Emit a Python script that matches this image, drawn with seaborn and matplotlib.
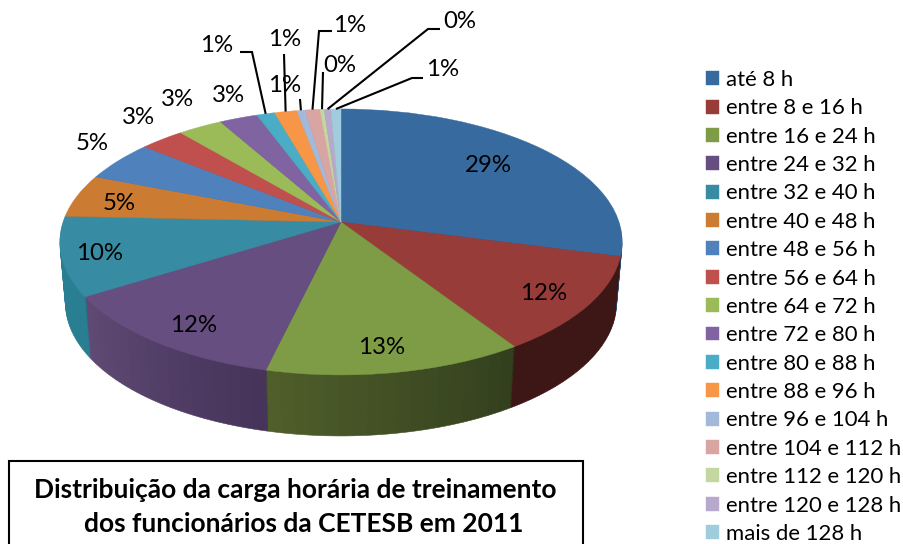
import numpy as np
import matplotlib
matplotlib.use('Agg')
import matplotlib.pyplot as plt
import matplotlib.transforms as mtransforms
from matplotlib.colors import to_rgb
from matplotlib.patches import Rectangle
import seaborn as sns

# Data
categories = ['até 8 h', 'entre 8 e 16 h', 'entre 16 e 24 h', 'entre 24 e 32 h',
              'entre 32 e 40 h', 'entre 40 e 48 h', 'entre 48 e 56 h', 'entre 56 e 64 h',
              'entre 64 e 72 h', 'entre 72 e 80 h', 'entre 80 e 88 h', 'entre 88 e 96 h',
              'entre 96 e 104 h', 'entre 104 e 112 h', 'entre 112 e 120 h',
              'entre 120 e 128 h', 'mais de 128 h']
shares = [29.1, 11.7, 12.9, 12.4, 9.6, 5.25, 4.95, 2.95, 2.97, 2.55,
          1.2, 1.49, 0.55, 0.98, 0.28, 0.45, 0.66]
title_lines = ['Distribuição da carga horária de treinamento',
               'dos funcionários da CETESB em 2011']

top_colors = ['#376A9E', '#983C3A', '#7E9C46', '#664F80', '#378CA3', '#CC7B33',
              '#4F81BD', '#C0504D', '#9BBB59', '#8064A2', '#4BACC6', '#F79646',
              '#A4B9DA', '#D9A5A3', '#C4D7A0', '#B7A9CB', '#9FCDDD']
# side wall colours, at the clockwise start and end of each slice
wall_start = ['#2A4A70', '#3D1715', '#33401E', '#46345A', '#2A7E92', '#8A5020',
              '#34567E', '#803533', '#687D3B', '#55436C', '#327284', '#A5642F',
              '#6D7B91', '#916E6D', '#838F6B', '#7A7187', '#6A8994']
wall_end = ['#2A4A70', '#3D1715', '#4F5E2A', '#5F4A74', '#2A7E92', '#8A5020',
            '#34567E', '#803533', '#687D3B', '#55436C', '#327284', '#A5642F',
            '#6D7B91', '#916E6D', '#838F6B', '#7A7187', '#6A8994']


class DiskPerspective(mtransforms.Transform):
    # tilted disk seen in perspective, unit circle to pixels
    input_dims = 2
    output_dims = 2

    def __init__(self, cx, cy, rx, ry, k):
        super().__init__()
        self.cx, self.cy, self.rx, self.ry, self.k = cx, cy, rx, ry, k

    def transform_non_affine(self, values):
        x, y = values[:, 0], values[:, 1]
        w = 1 + self.k * y
        return np.column_stack([self.cx + self.rx * x / w, self.cy - self.ry * y / w])


sns.set_theme(style='white')
plt.rcParams['font.family'] = ['Lato', 'DejaVu Sans']

fig = plt.figure(figsize=(9.04, 5.44), dpi=100)
ax = fig.add_axes([0, 0, 1, 1])

# side wall: stacked pies, each slice split up to get the horizontal shading
n_sub = 18
sub_shares = np.repeat(np.array(shares) / n_sub, n_sub)
sub_colors = []
for a, b in zip(wall_start, wall_end):
    for f in np.linspace(0, 1, n_sub):
        sub_colors.append(tuple((1 - f) * np.array(to_rgb(a)) + f * np.array(to_rgb(b))))

for t in np.linspace(1, 0.03, 30):
    persp = DiskPerspective(341, 222 + 61 * t, 278 * (1 - 0.02 * t), 130, 0.15)
    wedges, _ = ax.pie(sub_shares, colors=sub_colors, startangle=90, counterclock=False)
    for w in wedges:
        w.set_transform(persp + ax.transData)
        w.set_edgecolor(w.get_facecolor())
        w.set_linewidth(0.4)

# top face
persp_top = DiskPerspective(341, 222, 278, 130, 0.15)
wedges, _, pct_texts = ax.pie(shares, colors=top_colors, startangle=90, counterclock=False,
                              autopct='%.0f%%', textprops={'fontsize': 17.3, 'color': 'black'})
for w in wedges:
    w.set_transform(persp_top + ax.transData)
    w.set_edgecolor(w.get_facecolor())
    w.set_linewidth(0.3)

ax.set_xlim(0, 904)
ax.set_ylim(544, 0)
ax.set_aspect('auto')
ax.axis('off')

# percentage label centres, in pixels
label_pos = [(488, 165), (544, 293), (382, 347), (194, 325), (100, 254), (119, 203),
             (92, 143), (139, 118), (178, 100), (229, 96), (217, 46), (285, 40),
             (285, 85), (350, 25), (340, 65), (460, 22), (443, 70)]
for txt, pos in zip(pct_texts, label_pos):
    txt.set_position(pos)
    txt.set_ha('center')
    txt.set_va('center')

# leader lines: slice index, then the free points away from the rim
leaders = {10: [(252, 52), (240, 52)],
           11: [(284, 54)],
           12: [(300, 99)],
           13: [(319, 31), (332, 31)],
           14: [(323, 72)],
           15: [(428, 29), (440, 29)],
           16: [(412, 78), (423, 78)]}
edges = np.cumsum([0] + shares) / np.sum(shares)
for i, pts in leaders.items():
    mid = 0.5 * (edges[i] + edges[i + 1])
    ang = np.pi / 2 - 2 * np.pi * mid
    rim = persp_top.transform(np.array([[np.cos(ang), np.sin(ang)]]))[0]
    xs = [rim[0]] + [p[0] for p in pts]
    ys = [rim[1]] + [p[1] for p in pts]
    ax.plot(xs, ys, color='black', lw=1.5, solid_capstyle='butt', solid_joinstyle='miter')

ax.legend(wedges, categories, loc='upper left', bbox_to_anchor=(706, 70),
          bbox_transform=ax.transData, frameon=False, fontsize=15.9,
          handlelength=0.59, handleheight=0.59, handletextpad=0.32,
          labelspacing=0.379, borderpad=0, borderaxespad=0, labelcolor='black')

# title box runs off the bottom of the picture
ax.add_patch(Rectangle((9, 461), 574, 100, facecolor='white', edgecolor='black', lw=1.5))
ax.text(295, 490, title_lines[0], ha='center', va='center', fontsize=19,
        fontweight='bold', color='black')
ax.text(304, 524, title_lines[1], ha='center', va='center', fontsize=19,
        fontweight='bold', color='black')

fig.savefig('out.png', dpi=100)
